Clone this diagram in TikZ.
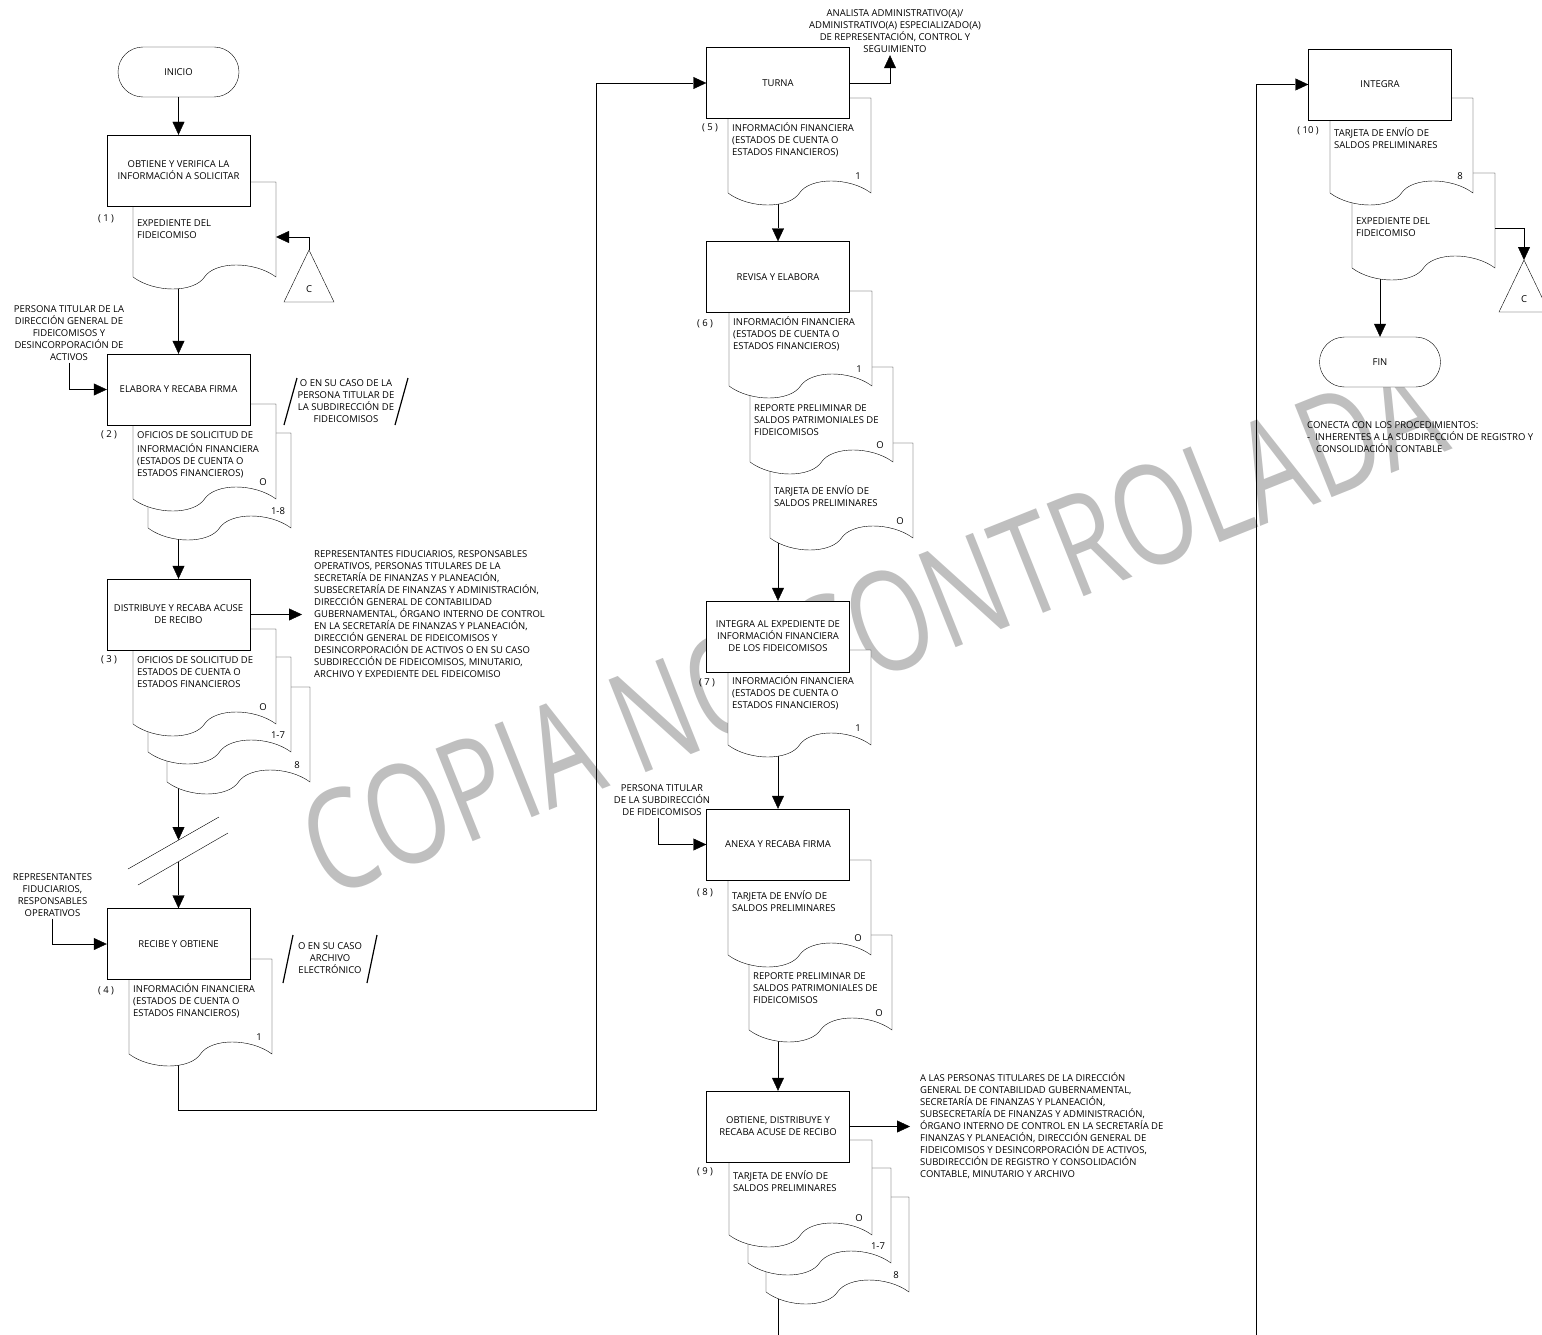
\documentclass[tikz,border=0pt]{standalone}
\usepackage{fontspec}
\usepackage{graphicx}
\setmainfont{Open Sans}
\usetikzlibrary{arrows.meta}
\pgfdeclarelayer{wmark}
\pgfdeclarelayer{conn}
\pgfsetlayers{wmark,conn,main}

\newcommand{\flowfont}{\fontsize{9.5pt}{12pt}\selectfont}
% document symbol: name, left x, top y, copy mark, text offset, text
\newcommand{\docu}[6]{%
  \draw[docline] (#2,#3) -- ({#2+143},#3) -- ({#2+143},{#3+95})
    .. controls ({#2+121.5},{#3+79}) and ({#2+82.2},{#3+79}) .. ({#2+71.5},{#3+95})
    .. controls ({#2+60.8},{#3+111}) and ({#2+21.5},{#3+111}) .. (#2,{#3+95}) -- cycle;
  \node[copyno] (#1n) at ({#2+130},{#3+78}) {#4};
  \node[doctext] (#1t) at ({#2+4},{#3+#5-5}) {\strut#6};
}

\tikzset{
  proc/.style={draw, fill=white, minimum width=143pt, minimum height=71pt,
    align=center, inner sep=1pt},
  term/.style={draw, fill=white, rounded corners=25pt, minimum width=121pt,
    minimum height=50pt},
  docline/.style={draw, fill=white},
  doctext/.style={anchor=north west, align=left, inner sep=0pt},
  copyno/.style={inner sep=0pt},
  steplbl/.style={inner sep=0pt},
  party/.style={align=center, inner sep=2pt},
  arr/.style={-{Triangle[length=13pt,width=12pt]}},
  slash/.style={line width=1.2pt},
  wmark/.style={text=black!25, font=\fontsize{105pt}{105pt}\selectfont,
    rotate=21.8, inner sep=0pt}
}

\begin{document}
\begin{tikzpicture}[x=1pt,y=-1pt,line width=0.9pt,font=\flowfont]
  \useasboundingbox (0,0) rectangle (1542,1335);
  \begin{pgfonlayer}{wmark}
    \node[wmark] (copia) at (872,628) {\scalebox{1}[1.33]{COPIA NO CONTROLADA}};
  \end{pgfonlayer}

  % column 1
  \node[term] (ini) at (178.5,72) {INICIO};
  \docu{d1}{133}{182}{}{41}{EXPEDIENTE DEL\\FIDEICOMISO}
  \node[proc] (b1) at (178.5,170.5) {OBTIENE Y VERIFICA LA\\INFORMACIÓN A SOLICITAR};
  \node[steplbl] (l1) at (106,219) {( 1 )};
  \draw (284,302) -- (309,250) -- (334,302) -- cycle;
  \node (c1) at (309,289) {C};
  \coordinate (c1top) at (309,250);
  \coordinate (d1in) at (276,237);
  \draw[arr] (c1top) |- (d1in);

  \docu{d2b}{148}{433}{1-8}{0}{}
  \docu{d2a}{133}{404}{O}{31}{OFICIOS DE SOLICITUD DE\\INFORMACIÓN FINANCIERA\\(ESTADOS DE CUENTA O\\ESTADOS FINANCIEROS)}
  \node[proc] (b2) at (178.5,389.5) {ELABORA Y RECABA FIRMA};
  \node[steplbl] (l2) at (109,435) {( 2 )};
  \node[party] (in2) at (69,333) {PERSONA TITULAR DE LA\\DIRECCIÓN GENERAL DE\\FIDEICOMISOS Y\\DESINCORPORACIÓN DE\\ACTIVOS};
  \draw[arr] (in2.south) |- (b2.west);
  \node[party] (n2) at (346,401) {O EN SU CASO DE LA\\PERSONA TITULAR DE\\LA SUBDIRECCIÓN DE\\FIDEICOMISOS};
  \draw[slash] (284,425) -- (297,378);
  \draw[slash] (395,425) -- (408,378);

  \docu{d3c}{167}{687}{8}{0}{}
  \docu{d3b}{148}{657}{1-7}{0}{}
  \docu{d3a}{133}{629}{O}{31}{OFICIOS DE SOLICITUD DE\\ESTADOS DE CUENTA O\\ESTADOS FINANCIEROS}
  \node[proc] (b3) at (178.5,614.5) {DISTRIBUYE Y RECABA ACUSE\\DE RECIBO};
  \node[steplbl] (l3) at (109,660) {( 3 )};
  \node[party, align=left, anchor=west] (out3) at (312,614) {REPRESENTANTES FIDUCIARIOS, RESPONSABLES\\OPERATIVOS, PERSONAS TITULARES DE LA\\SECRETARÍA DE FINANZAS Y PLANEACIÓN,\\SUBSECRETARÍA DE FINANZAS Y ADMINISTRACIÓN,\\DIRECCIÓN GENERAL DE CONTABILIDAD\\GUBERNAMENTAL, ÓRGANO INTERNO DE CONTROL\\EN LA SECRETARÍA DE FINANZAS Y PLANEACIÓN,\\DIRECCIÓN GENERAL DE FIDEICOMISOS Y\\DESINCORPORACIÓN DE ACTIVOS O EN SU CASO\\SUBDIRECCIÓN DE FIDEICOMISOS, MINUTARIO,\\ARCHIVO Y EXPEDIENTE DEL FIDEICOMISO};
  \draw[arr] (b3.east) -- ([xshift=-10pt]out3.west |- b3.east);

  % page break in the flow
  \draw (128,869) -- (219,817);
  \draw (138,885) -- (228,833);
  \coordinate (brk1) at (178.5,840);
  \coordinate (brk2) at (178.5,862);

  \docu{d4}{129}{959}{1}{29}{INFORMACIÓN FINANCIERA\\(ESTADOS DE CUENTA O\\ESTADOS FINANCIEROS)}
  \node[proc] (b4) at (178.5,944) {RECIBE Y OBTIENE};
  \node[steplbl] (l4) at (106,991) {( 4 )};
  \node[party] (in4) at (52.5,895) {REPRESENTANTES\\FIDUCIARIOS,\\RESPONSABLES\\OPERATIVOS};
  \draw[arr] (in4.south) |- (b4.west);
  \node[party] (n4) at (330,958) {O EN SU CASO\\ARCHIVO\\ELECTRÓNICO};
  \draw[slash] (283,983) -- (293,935);
  \draw[slash] (367,983) -- (377,935);
  \coordinate (lp1) at (596,1110);

  % column 2
  \docu{d5}{728}{98}{1}{29}{INFORMACIÓN FINANCIERA\\(ESTADOS DE CUENTA O\\ESTADOS FINANCIEROS)}
  \node[proc] (b5) at (778,83) {TURNA};
  \node[steplbl] (l5) at (710,128) {( 5 )};
  \node[party] (out5) at (895,31.5) {ANALISTA ADMINISTRATIVO(A)/\\ADMINISTRATIVO(A) ESPECIALIZADO(A)\\DE REPRESENTACIÓN, CONTROL Y\\SEGUIMIENTO};
  \draw[arr] (b5.east) -| ([xshift=-5pt]out5.south);

  \docu{d6c}{770}{443}{O}{47}{TARJETA DE ENVÍO DE\\SALDOS PRELIMINARES}
  \docu{d6b}{750}{367}{O}{41}{REPORTE PRELIMINAR DE\\SALDOS PATRIMONIALES DE\\FIDEICOMISOS}
  \docu{d6a}{729}{291}{1}{30}{INFORMACIÓN FINANCIERA\\(ESTADOS DE CUENTA O\\ESTADOS FINANCIEROS)}
  \node[proc] (b6) at (778,277) {REVISA Y ELABORA};
  \node[steplbl] (l6) at (705,324) {( 6 )};

  \docu{d7}{728}{650}{1}{30}{INFORMACIÓN FINANCIERA\\(ESTADOS DE CUENTA O\\ESTADOS FINANCIEROS)}
  \node[proc] (b7) at (778,636.5) {INTEGRA AL EXPEDIENTE DE\\INFORMACIÓN FINANCIERA\\DE LOS FIDEICOMISOS};
  \node[steplbl] (l7) at (707,683) {( 7 )};

  \docu{d8b}{749}{935}{O}{41}{REPORTE PRELIMINAR DE\\SALDOS PATRIMONIALES DE\\FIDEICOMISOS}
  \docu{d8a}{728}{860}{O}{35}{TARJETA DE ENVÍO DE\\SALDOS PRELIMINARES}
  \node[proc] (b8) at (778,844.5) {ANEXA Y RECABA FIRMA};
  \node[steplbl] (l8) at (705,893) {( 8 )};
  \node[party] (in8) at (662,800) {PERSONA TITULAR\\DE LA SUBDIRECCIÓN\\DE FIDEICOMISOS};
  \draw[arr] ([xshift=-4pt]in8.south) |- (b8.west);

  \docu{d9c}{766}{1197}{8}{0}{}
  \docu{d9b}{748}{1168}{1-7}{0}{}
  \docu{d9a}{729}{1140}{O}{35}{TARJETA DE ENVÍO DE\\SALDOS PRELIMINARES}
  \node[proc] (b9) at (778,1126.5) {OBTIENE, DISTRIBUYE Y\\RECABA ACUSE DE RECIBO};
  \node[steplbl] (l9) at (705,1172) {( 9 )};
  \node[party, align=left, anchor=west] (out9) at (918,1125.5) {A LAS PERSONAS TITULARES DE LA DIRECCIÓN\\GENERAL DE CONTABILIDAD GUBERNAMENTAL,\\SECRETARÍA DE FINANZAS Y PLANEACIÓN,\\SUBSECRETARÍA DE FINANZAS Y ADMINISTRACIÓN,\\ÓRGANO INTERNO DE CONTROL EN LA SECRETARÍA DE\\FINANZAS Y PLANEACIÓN, DIRECCIÓN GENERAL DE\\FIDEICOMISOS Y DESINCORPORACIÓN DE ACTIVOS,\\SUBDIRECCIÓN DE REGISTRO Y CONSOLIDACIÓN\\CONTABLE, MINUTARIO Y ARCHIVO};
  \draw[arr] (b9.east) -- ([xshift=-8pt]out9.west |- b9.east);
  \coordinate (pg2) at (778,1335);

  % column 3
  \coordinate (pg3) at (1256,1335);
  \docu{d10b}{1352}{173}{}{48}{EXPEDIENTE DEL\\FIDEICOMISO}
  \docu{d10a}{1330}{98}{8}{34}{TARJETA DE ENVÍO DE\\SALDOS PRELIMINARES}
  \node[proc] (b10) at (1380,84.5) {INTEGRA};
  \node[steplbl] (l10) at (1308,131) {( 10 )};
  \draw (1499,312) -- (1524,260) -- (1549,312) -- cycle;
  \node (c3) at (1524,299) {C};
  \coordinate (c3top) at (1524,260);
  \coordinate (d10out) at (1495,228);
  \draw[arr] (d10out) -| (c3top);
  \node[term] (fin) at (1380,362) {FIN};
  \node[party, align=left, anchor=north west] (conecta) at (1305,419) {CONECTA CON LOS PROCEDIMIENTOS:\\-\hspace*{5pt}INHERENTES A LA SUBDIRECCIÓN DE REGISTRO Y\\\hspace*{9pt}CONSOLIDACIÓN CONTABLE};

  % connectors behind the documents
  \begin{pgfonlayer}{conn}
    \draw[arr] (ini.south) -- (b1.north);
    \draw[arr] (b1.south) -- (b2.north);
    \draw[arr] (b2.south) -- (b3.north);
    \draw[arr] (b3.south) -- (brk1);
    \draw[arr] (brk2) -- (b4.north);
    \draw[arr] (b4.south) |- (lp1) |- (b5.west);
    \draw[arr] (b5.south) -- (b6.north);
    \draw[arr] (b6.south) -- (b7.north);
    \draw[arr] (b7.south) -- (b8.north);
    \draw[arr] (b8.south) -- (b9.north);
    \draw (b9.south) -- (pg2);
    \draw[arr] (pg3) |- (b10.west);
    \draw[arr] (b10.south) -- (fin.north);
  \end{pgfonlayer}
\end{tikzpicture}
\end{document}
